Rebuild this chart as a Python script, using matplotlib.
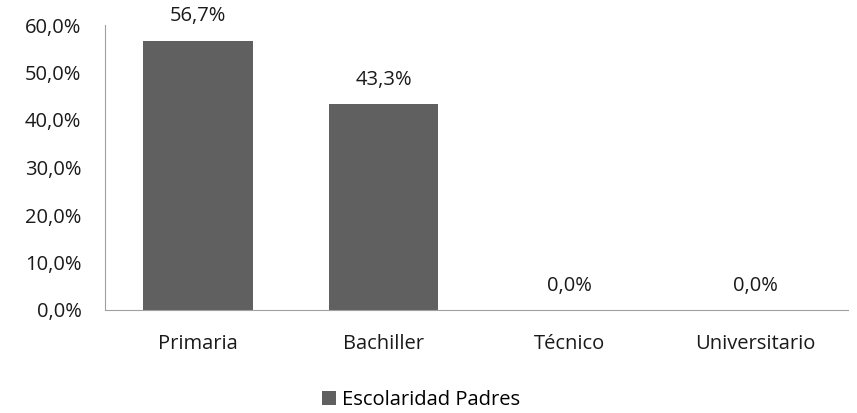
import matplotlib.pyplot as plt
from matplotlib.ticker import FuncFormatter

categories = ["Primaria", "Bachiller", "Técnico", "Universitario"]
values = [56.7, 43.3, 0.0, 0.0]
series_name = "Escolaridad Padres"

plt.rcParams["font.family"] = ["Open Sans", "DejaVu Sans"]
FS = 14.5

fig = plt.figure(figsize=(8.57, 4.13), dpi=100)
ax = fig.add_axes([105 / 857, 1 - 310 / 413, 743 / 857, 285 / 413])

x = range(len(categories))
bars = ax.bar(x, values, width=0.59, color="#606060", label=series_name)

for xi, v in zip(x, values):
    ax.annotate(f"{v:.1f}%".replace(".", ","), (xi, v), xytext=(0, 17.5),
                textcoords="offset points", ha="center", va="center",
                fontsize=FS, color="#1a1a1a")

ax.set_xlim(-0.5, len(categories) - 0.5)
ax.set_ylim(0, 60)
ax.set_yticks(range(0, 61, 10))
ax.yaxis.set_major_formatter(FuncFormatter(lambda v, p: f"{v:.1f}%".replace(".", ",")))
ax.set_xticks(list(x))
ax.set_xticklabels(categories)
ax.tick_params(axis="both", length=0, labelsize=FS, colors="#1a1a1a")
ax.tick_params(axis="x", pad=17)
ax.tick_params(axis="y", pad=17)

for s in ["top", "right"]:
    ax.spines[s].set_visible(False)
ax.spines["left"].set_color("#a0a0a0")
ax.spines["bottom"].set_color("#a0a0a0")

fig.legend(handles=[bars], labels=[series_name], loc="center",
           bbox_to_anchor=(421 / 857, 1 - 400 / 413), frameon=False,
           fontsize=FS, handlelength=0.7, handleheight=0.7, handletextpad=0.3)

fig.savefig("out.png", dpi=100)
